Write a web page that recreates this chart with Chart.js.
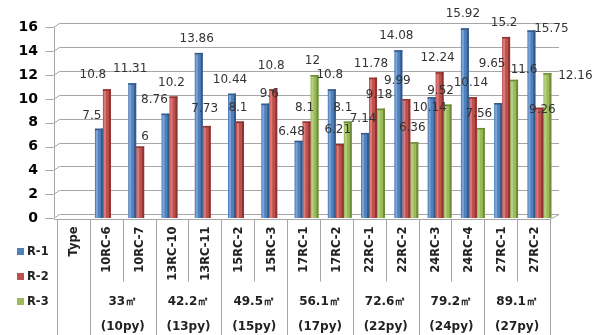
<!DOCTYPE html>
<html>
<head>
<meta charset="utf-8">
<script src="https://cdn.jsdelivr.net/npm/chart.js@4"></script>
<style>
html, body { margin: 0; padding: 0; background: #fff; }
#wrap { width: 606px; height: 335px; position: relative; }
</style>
</head>
<body>
<div id="wrap"><canvas id="chart1"></canvas></div>
<script>
/* ---------------- data ---------------- */
const categories = ["Type", "10RC-6", "10RC-7", "13RC-10", "13RC-11", "15RC-2", "15RC-3",
  "17RC-1", "17RC-2", "22RC-1", "22RC-2", "24RC-3", "24RC-4", "27RC-1", "27RC-2"];
const r1 = [null, 7.5, 11.31, 8.76, 13.86, 10.44, 9.6, 6.48, 10.8, 7.14, 14.08, 10.14, 15.92, 9.65, 15.75];
const r2 = [null, 10.8, 6, 10.2, 7.73, 8.1, 10.8, 8.1, 6.21, 11.78, 9.99, 12.24, 10.14, 15.2, 9.26];
const r3 = [null, null, null, null, null, null, null, 12, 8.1, 9.18, 6.36, 9.52, 7.56, 11.6, 12.16];
const groupArea = ["33㎡", "42.2㎡", "49.5㎡", "56.1㎡", "72.6㎡", "79.2㎡", "89.1㎡"];
const groupPy = ["(10py)", "(13py)", "(15py)", "(17py)", "(22py)", "(24py)", "(27py)"];
const seriesNames = ["R-1", "R-2", "R-3"];

// value labels sit where excel dropped them: extra [dx, dy] per "series:index"
const labelNudge = {
  "0:1": [-5, 1], "1:1": [-12, 0], "0:3": [-9, 0], "1:2": [7, 4], "1:4": [0, -3],
  "0:6": [6, 4], "1:6": [0, -9], "0:7": [-5, 5], "2:8": [-3, 0], "1:10": [-7, -4],
  "2:11": [-5, 0], "0:11": [0, 25], "0:13": [-4, -25], "2:13": [12, 4],
  "0:14": [22, 12], "1:14": [5, 16], "2:14": [30, 17]
};

const colors = ['#4F81BD', '#C0504D', '#9BBB59'];
const darks = ['#36598A', '#8E3432', '#6E8B3A'];
const lights = ['#7FA3D4', '#D97C79', '#B6D081'];
const lineCol = '#a6a6a6';
const FONT = "'DejaVu Sans'";

const ctx1 = chart1.getContext("2d");

/* 3d-ish walls, ticks, data table and legend */
const excelLook = {
  id: 'excelLook',
  beforeDatasetsDraw(chart) {
    const { ctx, chartArea: a, scales: { y } } = chart;
    const ax = a.left - 3.5;
    ctx.save();
    ctx.strokeStyle = lineCol;
    ctx.lineWidth = 1;
    y.ticks.forEach(t => {
      const py = Math.round(y.getPixelForValue(t.value)) + 0.5;
      ctx.beginPath();
      ctx.moveTo(ax - 8, py);
      ctx.lineTo(ax, py);
      ctx.lineTo(ax + 6, py - 4);
      ctx.lineTo(a.right + 3, py - 4);
      ctx.stroke();
    });
    ctx.beginPath();
    ctx.moveTo(Math.round(ax) + 0.5, y.getPixelForValue(16));
    ctx.lineTo(Math.round(ax) + 0.5, y.getPixelForValue(0));
    ctx.stroke();
    ctx.restore();
  },
  afterDatasetsDraw(chart) {
    const { ctx, chartArea: a, scales: { x, y } } = chart;
    ctx.save();
    // shading on the bars
    chart.data.datasets.forEach((ds, di) => {
      chart.getDatasetMeta(di).data.forEach((el, i) => {
        if (ds.data[i] == null) return;
        const l = el.x - el.width / 2, r = el.x + el.width / 2;
        ctx.fillStyle = darks[di];
        ctx.fillRect(r - 2, el.y, 2, el.base - el.y);
        ctx.fillStyle = lights[di];
        ctx.fillRect(l + 1, el.y + 1, 2, el.base - el.y - 1);
        ctx.fillStyle = darks[di];
        ctx.fillRect(l, el.y, r - l, 1.5);
      });
    });
    // value labels
    ctx.font = "12px " + FONT;
    ctx.fillStyle = '#333';
    ctx.textAlign = 'center';
    ctx.textBaseline = 'middle';
    chart.data.datasets.forEach((ds, di) => {
      chart.getDatasetMeta(di).data.forEach((el, i) => {
        const v = ds.data[i];
        if (v == null) return;
        const n = labelNudge[di + ":" + i] || [0, 0];
        ctx.fillText(String(v), el.x - 2 + n[0], el.y - 14 + n[1]);
      });
    });

    // floor front edge + data table
    const n = categories.length;
    const bound = i => {
      if (i === 0) return a.left;
      if (i === n) return a.right;
      return (x.getPixelForValue(i - 1) + x.getPixelForValue(i)) / 2;
    };
    const tableRight = a.right - 6;
    const tx = px => a.left + (px - a.left) * (tableRight - a.left) / (a.right - a.left);
    const y0 = Math.round(y.getPixelForValue(0)) + 1.5;
    ctx.strokeStyle = lineCol;
    ctx.lineWidth = 1;
    ctx.beginPath();
    ctx.moveTo(a.left - 3, y0);
    ctx.lineTo(tableRight, y0);
    ctx.lineTo(a.right + 3, y0 - 5);
    ctx.stroke();
    for (let i = 0; i <= n; i++) {
      const bx = Math.round(tx(bound(i))) + 0.5;
      const full = i <= 1 || i % 2 === 1 || i === n;
      ctx.beginPath();
      ctx.moveTo(bx, y0);
      ctx.lineTo(bx, full ? 335 : y0 + 62);
      ctx.stroke();
    }
    // rotated category labels
    ctx.fillStyle = '#222';
    ctx.font = "bold 11.5px " + FONT;
    ctx.textAlign = 'right';
    ctx.textBaseline = 'middle';
    categories.forEach((c, i) => {
      const cx = tx(x.getPixelForValue(i)) + 1;
      ctx.save();
      ctx.translate(cx, y0 + 7);
      ctx.rotate(-Math.PI / 2);
      ctx.fillText(c, 0, 0);
      ctx.restore();
    });
    // group labels
    ctx.font = "bold 12px " + FONT;
    ctx.textAlign = 'center';
    groupArea.forEach((g, k) => {
      const cx = (tx(bound(1 + 2 * k)) + tx(bound(3 + 2 * k))) / 2;
      ctx.fillText(g, cx, 302);
      ctx.fillText(groupPy[k], cx, 327);
    });
    // legend
    ctx.textAlign = 'left';
    ctx.font = "bold 11.5px " + FONT;
    seriesNames.forEach((s, k) => {
      const ly = 252 + k * 25;
      ctx.fillStyle = colors[k];
      ctx.fillRect(17, ly - 4, 7, 7);
      ctx.fillStyle = '#222';
      ctx.fillText(s, 27, ly);
    });
    ctx.restore();
  }
};

const data1 = {
  labels: categories,
  datasets: [
    { label: seriesNames[0], data: r1, backgroundColor: colors[0] },
    { label: seriesNames[1], data: r2, backgroundColor: colors[1] },
    { label: seriesNames[2], data: r3, backgroundColor: colors[2] }
  ]
};

const config1 = {
  type: 'bar',
  data: data1,
  options: {
    responsive: false,
    animation: false,
    devicePixelRatio: 1,
    layout: { padding: { left: 0, right: 50, top: 26, bottom: 117 } },
    datasets: { bar: { categoryPercentage: 0.72, barPercentage: 1.0 } },
    scales: {
      x: { display: false },
      y: {
        min: 0,
        max: 16,
        afterFit(s) { s.width = 57; },
        ticks: {
          stepSize: 2,
          color: '#000',
          padding: 19,
          font: { family: 'DejaVu Sans', weight: 'bold', size: 14 }
        },
        grid: { display: false, drawTicks: false },
        border: { display: false }
      }
    },
    plugins: {
      legend: { display: false },
      tooltip: { enabled: false }
    }
  },
  plugins: [excelLook]
};

chart1.width = 606;
chart1.height = 335;
const myChart1 = new Chart(ctx1, config1);
</script>
</body>
</html>
